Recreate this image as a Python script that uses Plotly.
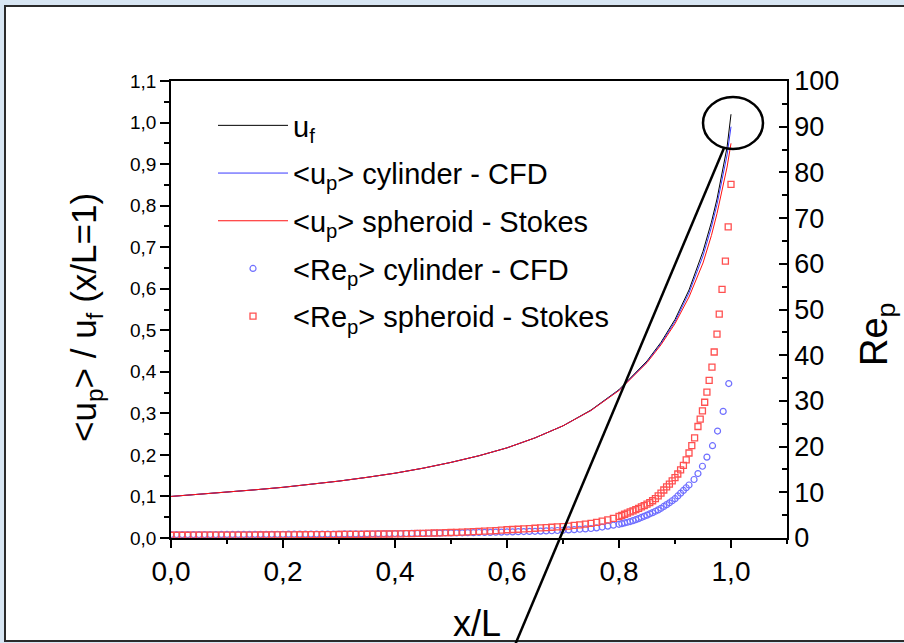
import plotly.graph_objects as go

# ---- velocity profiles along the channel (left axis) ----
LINE_X = [0.00, 0.05, 0.10, 0.15, 0.20, 0.25, 0.30, 0.35, 0.40, 0.45, 0.50, 0.55,
          0.60, 0.65, 0.70, 0.75, 0.80, 0.85, 0.875, 0.90, 0.925, 0.95, 0.965,
          0.975, 0.985, 0.993, 1.00]
U_F = [0.100, 0.105, 0.110, 0.116, 0.122, 0.129, 0.137, 0.146, 0.156, 0.168, 0.182,
       0.198, 0.217, 0.241, 0.270, 0.308, 0.357, 0.426, 0.471, 0.526, 0.597, 0.690,
       0.760, 0.816, 0.881, 0.941, 1.020]
UP_CYL = [0.100, 0.105, 0.110, 0.116, 0.122, 0.129, 0.137, 0.146, 0.156, 0.168, 0.182,
          0.198, 0.217, 0.241, 0.270, 0.307, 0.356, 0.424, 0.468, 0.521, 0.590, 0.679,
          0.748, 0.803, 0.865, 0.922, 0.990]
UP_SPH = [0.100, 0.105, 0.110, 0.116, 0.122, 0.129, 0.137, 0.146, 0.156, 0.168, 0.182,
          0.198, 0.217, 0.241, 0.270, 0.307, 0.355, 0.422, 0.465, 0.516, 0.580, 0.662,
          0.728, 0.781, 0.840, 0.893, 0.950]

# ---- particle Reynolds number (right axis) ----
RE_SPH_X = [0.00, 0.01, 0.02, 0.03, 0.04, 0.05, 0.06, 0.07, 0.08, 0.09,
            0.10, 0.11, 0.12, 0.13, 0.14, 0.15, 0.16, 0.17, 0.18, 0.19,
            0.20, 0.21, 0.22, 0.23, 0.24, 0.25, 0.26, 0.27, 0.28, 0.29,
            0.30, 0.31, 0.32, 0.33, 0.34, 0.35, 0.36, 0.37, 0.38, 0.39,
            0.40, 0.41, 0.42, 0.43, 0.44, 0.45, 0.46, 0.47, 0.48, 0.49,
            0.50, 0.51, 0.52, 0.53, 0.54, 0.55, 0.56, 0.57, 0.58, 0.59,
            0.60, 0.61, 0.62, 0.63, 0.64, 0.65, 0.66, 0.67, 0.68, 0.69,
            0.70, 0.71, 0.72, 0.73, 0.74, 0.75, 0.76, 0.77, 0.78, 0.79, 0.80,
            0.805, 0.810, 0.815, 0.820, 0.825, 0.830, 0.835, 0.840, 0.845, 0.850,
            0.855, 0.860, 0.865, 0.870, 0.875, 0.880, 0.885, 0.890, 0.895, 0.900,
            0.905, 0.910, 0.915, 0.920, 0.925, 0.930, 0.935,
            0.941, 0.945, 0.949, 0.953, 0.957, 0.961, 0.966, 0.970, 0.975, 0.979,
            0.984, 0.990, 0.995, 1.000]
RE_SPH = [0.60, 0.60, 0.60, 0.60, 0.61, 0.61, 0.61, 0.62, 0.62, 0.62,
          0.63, 0.63, 0.64, 0.64, 0.65, 0.65, 0.66, 0.66, 0.67, 0.68,
          0.68, 0.69, 0.70, 0.71, 0.71, 0.72, 0.73, 0.74, 0.75, 0.76,
          0.77, 0.78, 0.79, 0.80, 0.81, 0.82, 0.84, 0.85, 0.87, 0.88,
          0.90, 0.92, 0.94, 0.97, 1.00, 1.03, 1.06, 1.09, 1.13, 1.16,
          1.20, 1.24, 1.29, 1.34, 1.39, 1.45, 1.51, 1.57, 1.63, 1.71,
          1.80, 1.86, 1.92, 1.99, 2.06, 2.13, 2.20, 2.28, 2.35, 2.42,
          2.50, 2.62, 2.75, 2.88, 3.03, 3.20, 3.42, 3.68, 3.97, 4.30, 4.70,
          4.95, 5.20, 5.45, 5.70, 5.95, 6.20, 6.50, 6.80, 7.10, 7.40,
          7.75, 8.15, 8.60, 9.20, 9.80, 10.5, 11.2, 11.8, 12.5, 13.2,
          14.0, 14.9, 15.9, 17.1, 18.6, 20.2, 21.9,
          24.4, 26.0, 27.8, 29.7, 31.9, 34.5, 37.4, 40.7, 44.6, 49.0,
          54.4, 60.6, 68.1, 77.4]

RE_CYL_X = [0.00, 0.01, 0.02, 0.03, 0.04, 0.05, 0.06, 0.07, 0.08, 0.09,
            0.10, 0.11, 0.12, 0.13, 0.14, 0.15, 0.16, 0.17, 0.18, 0.19,
            0.20, 0.21, 0.22, 0.23, 0.24, 0.25, 0.26, 0.27, 0.28, 0.29,
            0.30, 0.31, 0.32, 0.33, 0.34, 0.35, 0.36, 0.37, 0.38, 0.39,
            0.40, 0.41, 0.42, 0.43, 0.44, 0.45, 0.46, 0.47, 0.48, 0.49,
            0.50, 0.51, 0.52, 0.53, 0.54, 0.55, 0.56, 0.57, 0.58, 0.59,
            0.60, 0.61, 0.62, 0.63, 0.64, 0.65, 0.66, 0.67, 0.68, 0.69,
            0.70, 0.71, 0.72, 0.73, 0.74, 0.75, 0.76, 0.77, 0.78, 0.79, 0.80,
            0.805, 0.810, 0.815, 0.820, 0.825, 0.830, 0.835, 0.840, 0.845, 0.850,
            0.855, 0.860, 0.865, 0.870, 0.875, 0.880, 0.885, 0.890, 0.895, 0.900,
            0.905, 0.910, 0.915, 0.920, 0.925,
            0.934, 0.941, 0.949, 0.957, 0.967, 0.976, 0.986, 0.996]
RE_CYL = [0.75, 0.75, 0.75, 0.76, 0.76, 0.76, 0.77, 0.77, 0.77, 0.78,
          0.78, 0.78, 0.79, 0.79, 0.80, 0.80, 0.80, 0.81, 0.81, 0.82,
          0.82, 0.83, 0.83, 0.84, 0.84, 0.85, 0.85, 0.86, 0.87, 0.87,
          0.88, 0.89, 0.89, 0.90, 0.91, 0.92, 0.93, 0.94, 0.95, 0.96,
          0.97, 0.98, 0.99, 1.00, 1.01, 1.03, 1.04, 1.06, 1.07, 1.09,
          1.10, 1.12, 1.14, 1.16, 1.18, 1.20, 1.22, 1.24, 1.27, 1.29,
          1.32, 1.35, 1.38, 1.41, 1.44, 1.47, 1.51, 1.55, 1.59, 1.64,
          1.69, 1.76, 1.83, 1.91, 1.99, 2.08, 2.22, 2.40, 2.60, 2.80, 3.00,
          3.15, 3.30, 3.45, 3.60, 3.80, 4.00, 4.25, 4.50, 4.75, 5.00,
          5.30, 5.55, 5.85, 6.15, 6.50, 6.90, 7.30, 7.70, 8.15, 8.60,
          9.20, 9.80, 10.4, 11.0, 11.6,
          12.8, 14.1, 15.7, 17.7, 20.2, 23.4, 27.7, 33.8]

# ---- axis ticks ----
X_TICKS = [0.0, 0.2, 0.4, 0.6, 0.8, 1.0]
X_TICK_TEXT = ["0,0", "0,2", "0,4", "0,6", "0,8", "1,0"]
Y_TICKS = [0.0, 0.1, 0.2, 0.3, 0.4, 0.5, 0.6, 0.7, 0.8, 0.9, 1.0, 1.1]
Y_TICK_TEXT = ["0,0", "0,1", "0,2", "0,3", "0,4", "0,5", "0,6", "0,7", "0,8", "0,9", "1,0", "1,1"]
Y2_TICKS = [0, 10, 20, 30, 40, 50, 60, 70, 80, 90, 100]
Y2_TICK_TEXT = ["0", "10", "20", "30", "40", "50", "60", "70", "80", "90", "100"]

W, H = 904, 643
ML, MR, MT, MB = 171, 117, 81, 105
PW, PH = W - ML - MR, H - MT - MB


def fx(px):
    """Horizontal pixel position -> paper coordinate."""
    return (px - ML) / PW


def fy(py):
    """Vertical pixel position -> paper coordinate."""
    return (H - MB - py) / PH


FONT = "Liberation Sans, Arial, sans-serif"
BLUE_LINE = "#3a3aff"
RED_LINE = "#ff1010"
BLUE_MK = "#6f6fff"
RED_MK = "#ff5050"

fig = go.Figure()

fig.add_trace(go.Scatter(x=LINE_X, y=U_F, mode="lines", name="u<sub>f</sub>",
                         line=dict(color="black", width=1), legendgroup="a"))
fig.add_trace(go.Scatter(x=LINE_X, y=UP_CYL, mode="lines",
                         name="&lt;u<sub>p</sub>&gt; cylinder - CFD",
                         line=dict(color=BLUE_LINE, width=1), legendgroup="b"))
fig.add_trace(go.Scatter(x=LINE_X, y=UP_SPH, mode="lines",
                         name="&lt;u<sub>p</sub>&gt; spheroid - Stokes",
                         line=dict(color=RED_LINE, width=1), legendgroup="c"))
fig.add_trace(go.Scatter(x=RE_CYL_X, y=RE_CYL, mode="markers", yaxis="y2",
                         name="&lt;Re<sub>p</sub>&gt; cylinder - CFD",
                         marker=dict(symbol="circle-open", size=6, color=BLUE_MK,
                                     line=dict(width=1.2, color=BLUE_MK)),
                         legendgroup="d"))
fig.add_trace(go.Scatter(x=RE_SPH_X, y=RE_SPH, mode="markers", yaxis="y2",
                         name="&lt;Re<sub>p</sub>&gt; spheroid - Stokes",
                         marker=dict(symbol="square-open", size=6, color=RED_MK,
                                     line=dict(width=1.3, color=RED_MK)),
                         legendgroup="e"))

axis_common = dict(showgrid=False, zeroline=False, showline=True, linecolor="black",
                   linewidth=1.5, tickcolor="black", tickwidth=1.5)

fig.update_layout(
    width=W, height=H,
    margin=dict(l=ML, r=MR, t=MT, b=MB),
    paper_bgcolor="#d8e6f3",
    plot_bgcolor="white",
    font=dict(family=FONT, color="black"),
    xaxis=dict(range=[0, 1.1], tickvals=X_TICKS, ticktext=X_TICK_TEXT,
               ticks="outside", ticklen=8, tickfont=dict(size=28),
               minor=dict(dtick=0.1, tick0=0, ticks="outside", ticklen=4,
                          tickcolor="black", tickwidth=1.5),
               mirror=True, **axis_common),
    yaxis=dict(range=[0, 1.1], tickvals=Y_TICKS, ticktext=Y_TICK_TEXT,
               ticks="outside", ticklen=9, tickfont=dict(size=19),
               minor=dict(dtick=0.05, tick0=0, ticks="outside", ticklen=5,
                          tickcolor="black", tickwidth=1.5),
               **axis_common),
    yaxis2=dict(range=[0, 100], overlaying="y", side="right",
                tickvals=Y2_TICKS, ticktext=Y2_TICK_TEXT,
                ticks="inside", ticklen=8, tickfont=dict(size=27),
                minor=dict(dtick=5, tick0=0, ticks="inside", ticklen=5,
                           tickcolor="black", tickwidth=1.5),
                **axis_common),
    showlegend=True,
    legend=dict(x=fx(213), y=fy(100), xanchor="left", yanchor="top",
                bgcolor="rgba(0,0,0,0)", font=dict(size=29, family=FONT),
                tracegroupgap=7, itemwidth=70),
)

# white panel with dark frame behind the chart
fig.add_shape(type="rect", xref="paper", yref="paper", layer="below",
              x0=fx(5), x1=fx(912), y0=fy(641), y1=fy(6),
              fillcolor="white", line=dict(color="#2b2b2b", width=2))

# highlight ellipse at the channel exit and its pointer line
fig.add_shape(type="circle", xref="paper", yref="paper",
              x0=fx(703), x1=fx(763), y0=fy(149), y1=fy(97),
              line=dict(color="black", width=2.5))
fig.add_shape(type="line", xref="paper", yref="paper",
              x0=fx(724), y0=fy(148), x1=fx(515), y1=fy(645),
              line=dict(color="black", width=2.5))

# axis titles
fig.add_annotation(text="x/L", xref="paper", yref="paper", x=fx(477), y=fy(623),
                   xanchor="center", yanchor="middle", showarrow=False,
                   font=dict(size=36))
fig.add_annotation(text="&lt;u<sub>p</sub>&gt; / u<sub>f</sub> (x/L=1)",
                   xref="paper", yref="paper", x=fx(86), y=fy(318),
                   xanchor="center", yanchor="middle", textangle=-90,
                   showarrow=False, font=dict(size=35))
fig.add_annotation(text="Re<sub>p</sub>", xref="paper", yref="paper",
                   x=fx(877), y=fy(335), xanchor="center", yanchor="middle",
                   textangle=-90, showarrow=False, font=dict(size=38))

fig.write_html("out.html")
